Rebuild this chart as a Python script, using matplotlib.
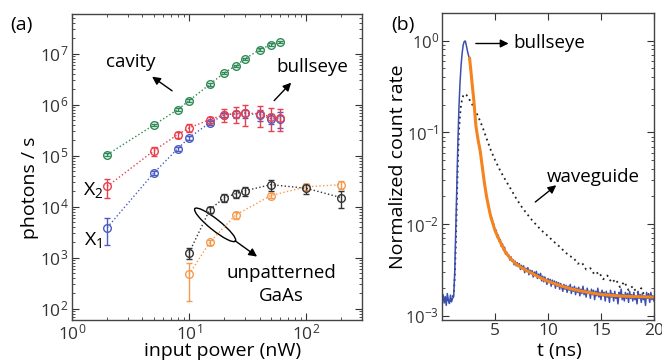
import numpy as np
import matplotlib
matplotlib.use("Agg")
import matplotlib.pyplot as plt
from matplotlib.patches import Ellipse
from matplotlib.transforms import Affine2D

plt.rcParams['font.family'] = ['Open Sans', 'DejaVu Sans']
plt.rcParams['mathtext.fontset'] = 'custom'
plt.rcParams['mathtext.rm'] = 'Open Sans'
plt.rcParams['mathtext.it'] = 'Open Sans:italic'
plt.rcParams['mathtext.bf'] = 'Open Sans:bold'

# ---- panel (a): photon counts vs input power ----
power = [2, 5, 8, 10, 15, 20, 25, 30, 40, 50, 60]
cavity = [1.05e5, 4.0e5, 8.0e5, 1.2e6, 2.5e6, 4.2e6, 5.8e6, 7.9e6, 1.2e7, 1.5e7, 1.7e7]
cavity_err = [6e3, 2.4e4, 4.5e4, 7e4, 1.4e5, 2.4e5, 3.3e5, 4.5e5, 7e5, 8.5e5, 1e6]
bull_x2 = [2.5e4, 1.25e5, 2.6e5, 3.5e5, 5.1e5, 6.4e5, 6.6e5, 6.9e5, 6.6e5, 5.8e5, 5.6e5]
bull_x2_err = [1.0e4, 2.5e4, 3.5e4, 6e4, 7e4, 1.9e5, 2.3e5, 3e5, 3e5, 2.7e5, 2.5e5]
bull_x1 = [3.9e3, 4.6e4, 1.37e5, 2.25e5, 4.4e5, 6.3e5, 6.6e5, 6.8e5, 6.3e5, 5.3e5, 5.3e5]
bull_x1_err = [2.1e3, 5e3, 1.2e4, 2e4, 3.5e4, 6e4, 1e5, 1.2e5, 1.5e5, 1.2e5, 1.8e5]

gaas_power_k = [10, 15, 20, 25, 30, 50, 100, 200]
gaas_k = [1.25e3, 8.7e3, 1.5e4, 1.8e4, 2.05e4, 2.7e4, 2.3e4, 1.5e4]
gaas_k_err = [3.2e2, 1.2e3, 2.5e3, 3.5e3, 4e3, 7e3, 5e3, 5.5e3]
gaas_power_o = [10, 15, 25, 50, 100, 200]
gaas_o = [4.7e2, 2.0e3, 6.9e3, 1.65e4, 2.45e4, 2.7e4]
gaas_o_err = [3.3e2, 2e2, 1.1e3, 2e3, 3e3, 5e3]

# ---- panel (b): time-resolved PL ----
t_step = 0.1
bullseye_trace = [  # in units of 1e-3, sampled every 0.1 ns from t = 0
    1.45, 1.70, 1.38, 1.62, 1.30, 1.75, 1.48, 1.36, 1.68, 1.42, 1.55, 1.62,
    3.0, 9, 30, 80, 190, 350, 540, 730, 900, 980, 990, 880, 770, 690, 630,
    495, 383, 288, 222, 162, 118, 97, 84, 71, 64, 51, 43, 34.5, 28.4,
    23.6, 20.5, 17.2, 15.8, 13.3, 12.4, 11.6, 10.4, 9.9, 8.3,
    8.6, 7.2, 7.6, 6.5, 6.8, 5.7, 6.1, 5.2, 5.6, 4.7,
    4.95, 4.5, 4.6, 4.05, 4.4, 3.95, 4.1, 3.6, 3.95, 3.5,
    3.8, 3.45, 3.7, 3.2, 3.55, 3.25, 3.5, 2.95, 3.3, 3.05,
    3.35, 2.8, 3.15, 2.95, 3.1, 2.65, 3.0, 2.75, 3.05, 2.55,
    2.85, 2.6, 2.9, 2.4, 2.7, 2.35, 2.65, 2.45, 2.2, 2.55,
    2.3, 2.5, 2.1, 2.45, 2.2, 2.4, 2.0, 2.35, 2.1, 2.3,
    1.95, 2.25, 2.05, 1.85, 2.2, 1.95, 2.15, 1.8, 2.1, 1.9,
    2.2, 1.75, 2.05, 1.85, 2.1, 1.7, 2.0, 1.8, 2.05, 1.65,
    1.95, 1.75, 2.1, 1.7, 1.9, 1.6, 2.0, 1.75, 1.85, 1.55,
    1.95, 1.7, 1.9, 1.5, 1.85, 1.65, 2.0, 1.6, 1.8, 1.5,
    1.9, 1.65, 1.8, 1.45, 1.85, 1.6, 1.75, 1.4, 1.9, 1.6,
    1.75, 1.45, 1.85, 1.55, 1.7, 1.35, 1.8, 1.6, 1.95, 1.5,
    1.7, 1.45, 1.8, 1.55, 1.75, 1.4, 1.85, 1.55, 1.7, 1.45,
    1.8, 1.5, 1.65, 1.35, 1.85, 1.55, 1.7, 1.4, 1.75, 1.5,
    1.65, 1.3, 1.8, 1.55, 1.7, 1.4, 1.8, 1.5, 1.65, 1.45,
]
fit_t = [2.6, 2.7, 2.8, 2.9, 3.0, 3.1, 3.2, 3.4, 3.6, 3.8, 4.0, 4.2, 4.4, 4.6, 4.8,
         5.0, 5.3, 5.6, 6.0, 6.5, 7.0, 7.5, 8.0, 8.5, 9.0, 9.5, 10, 11, 12, 13,
         14, 15, 16, 17, 18, 19, 20]
fit_val = [640, 500, 380, 290, 225, 160, 117, 83, 63, 42, 28, 20, 15.3, 12.0, 10.1,
           8.5, 7.1, 6.0, 4.9, 4.15, 3.65, 3.35, 3.1, 2.9, 2.7, 2.52, 2.38, 2.16,
           1.99, 1.87, 1.78, 1.71, 1.67, 1.64, 1.62, 1.61, 1.60]
wg_t = [0, 0.2, 0.4, 0.6, 0.8, 1.0, 1.1, 1.2, 1.3, 1.4, 1.5, 1.6, 1.7, 1.8, 1.9,
        2.0, 2.1, 2.2, 2.3, 2.4, 2.6, 2.8, 3.0, 3.4, 3.8, 4.2, 4.6, 5.0, 5.5, 6.0,
        6.5, 7.0, 7.5, 8.0, 8.5, 9.0, 9.5, 10, 10.5, 11, 11.5, 12, 12.4, 12.8,
        13.2, 13.6, 14, 14.4, 14.8, 15.2, 15.6, 16, 16.4, 16.8, 17.2, 17.6, 18,
        18.4, 18.8, 19.2, 19.6, 20]
wg_val = [1.5, 1.6, 1.4, 1.55, 1.45, 1.6, 1.7, 2.6, 6, 18, 50, 105, 155, 200, 232,
          250, 260, 262, 256, 247, 226, 206, 187, 150, 116, 86, 64, 50, 38, 30,
          24, 19, 15.5, 13, 11, 9.5, 8.3, 7.4, 6.5, 5.8, 5.1, 4.5, 4.3, 3.7,
          3.8, 3.2, 3.3, 2.8, 3.0, 2.5, 2.75, 2.3, 2.5, 2.05, 2.35, 1.9, 2.1,
          1.75, 2.0, 1.55, 1.8, 1.5]

fig = plt.figure(figsize=(6.62, 3.64), dpi=100)
axa = fig.add_axes([0.1088, 0.1209, 0.438, 0.8407])
axb = fig.add_axes([0.6677, 0.1209, 0.3202, 0.8434])

ebkw = dict(fmt='o', ls=':', lw=1, ms=5.5, mfc='none', mew=1, elinewidth=1, capsize=2.5)
axa.errorbar(power, bull_x1, yerr=bull_x1_err, color='#4a5cc4', **ebkw)
axa.errorbar(power, bull_x2, yerr=bull_x2_err, color='#ea3f4c', **ebkw)
axa.errorbar(power, cavity, yerr=cavity_err, color='#2f8a55', **ebkw)
axa.errorbar(gaas_power_o, gaas_o, yerr=gaas_o_err, color='#f59a4e', **ebkw)
axa.errorbar(gaas_power_k, gaas_k, yerr=gaas_k_err, color='#333333', **ebkw)

axa.set_xscale('log')
axa.set_yscale('log')
axa.set_xlim(1, 300)
axa.set_ylim(60, 6e7)
axa.set_xticks([1, 10, 100])
axa.set_yticks([1e2, 1e3, 1e4, 1e5, 1e6, 1e7])
axa.set_xlabel('input power (nW)', fontsize=14)
axa.set_ylabel('photons / s', fontsize=14)
axa.xaxis.set_label_coords(0.52, -0.072)
axa.yaxis.set_label_coords(-0.115, 0.431)

arr = dict(arrowstyle='-|>', color='k', lw=1, mutation_scale=12, shrinkA=0, shrinkB=0)
axa.text(3.19, 6.9e6, 'cavity', fontsize=13.5, ha='center', va='center')
axa.annotate('', xy=(4.83, 3.54e6), xytext=(7.16, 1.87e6), arrowprops=arr)
axa.text(112, 5.4e6, 'bullseye', fontsize=13.5, ha='center', va='center')
axa.annotate('', xy=(74.5, 2.7e6), xytext=(53.3, 1.2e6), arrowprops=arr)
axa.text(1.51, 2.15e4, r'X$_2$', fontsize=14, ha='center', va='center')
axa.text(1.51, 2.2e3, r'X$_1$', fontsize=14, ha='center', va='center')
axa.text(61, 300, 'unpatterned\nGaAs', fontsize=13.5, ha='center', va='center',
         linespacing=1.35)
axa.annotate('', xy=(38.1, 1.05e3), xytext=(24.7, 2.15e3), arrowprops=arr)

# ellipse drawn in pixel units around the GaAs curves
cx, cy = axa.transData.transform((16.7, 4.4e3))
ell = Ellipse((0, 0), 52, 11, angle=-38.7, fill=False, ec='k', lw=1,
              transform=Affine2D().translate(cx, cy))
axa.add_artist(ell)

# panel (b)
t_trace = np.arange(len(bullseye_trace)) * t_step
axb.plot(wg_t, np.array(wg_val) * 1e-3, color='#222222', ls=(0, (1, 2)), lw=1.3)
axb.plot(t_trace, np.array(bullseye_trace) * 1e-3, color='#3a4fb2', lw=1.1)
axb.plot(fit_t, np.array(fit_val) * 1e-3, color='#f5841f', lw=2.2)
axb.set_yscale('log')
axb.set_xlim(0, 20)
axb.set_ylim(9e-4, 2)
axb.set_xticks([5, 10, 15, 20])
axb.set_yticks([1e-3, 1e-2, 1e-1, 1])
axb.set_xlabel('t (ns)', fontsize=14)
axb.set_ylabel('Normalized count rate', fontsize=14)
axb.xaxis.set_label_coords(0.556, -0.072)
axb.yaxis.set_label_coords(-0.165, 0.5)

axb.text(6.75, 0.93, 'bullseye', fontsize=13.5, ha='left', va='center')
axb.annotate('', xy=(6.28, 0.93), xytext=(3.19, 0.93), arrowprops=arr)
axb.text(9.93, 0.033, 'waveguide', fontsize=13.5, ha='left', va='center')
axb.annotate('', xy=(10.78, 0.0265), xytext=(8.8, 0.0174), arrowprops=arr)

for ax in (axa, axb):
    ax.tick_params(which='both', direction='in', top=True, right=True,
                   labelsize=12.5, colors='#333333', pad=2.5)
    ax.tick_params(which='major', length=5, width=0.8)
    ax.tick_params(which='minor', length=2.5, width=0.6)
    for s in ax.spines.values():
        s.set_color('#444444')
        s.set_linewidth(1)
axb.tick_params(axis='y', labelsize=12, pad=2)

fig.text(0.033, 0.931, '(a)', fontsize=14, ha='center', va='center')
fig.text(0.609, 0.931, '(b)', fontsize=14, ha='center', va='center')

fig.savefig('out.png', dpi=100)
